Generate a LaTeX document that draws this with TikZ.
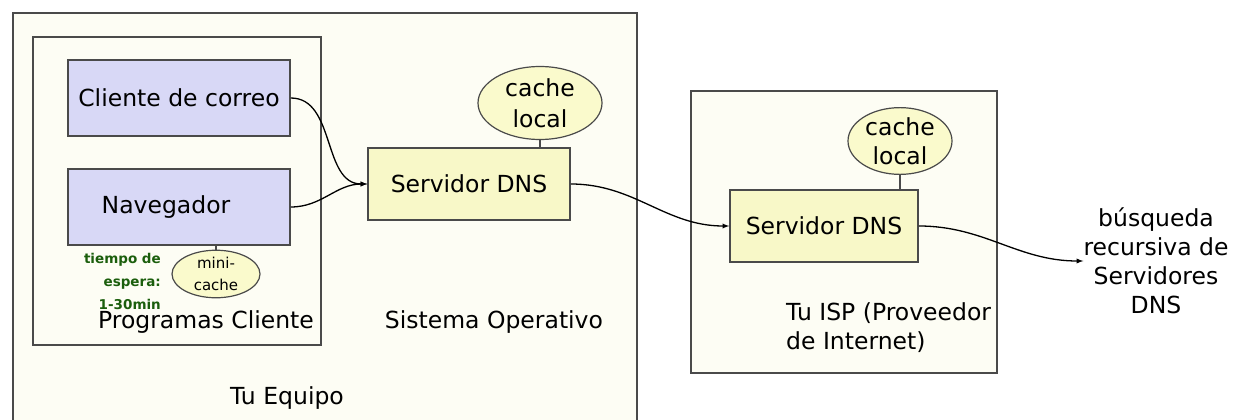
\documentclass[tikz,border=0pt]{standalone}
\usepackage{fontspec}
\setmainfont{DejaVu Sans}
\usetikzlibrary{shapes,arrows,positioning}
\definecolor{zonefill}{HTML}{FDFDF4}
\definecolor{progfill}{HTML}{D8D8F6}
\definecolor{dnsfill}{HTML}{F8F8C8}
\definecolor{cachefill}{HTML}{FAFACC}
\definecolor{linegray}{HTML}{4A4A4A}
\definecolor{waitgreen}{HTML}{1B5E0C}

\begin{document}
\begin{tikzpicture}[x=1pt,y=-1pt,>=latex,font=\fontsize{23.5}{29}\selectfont]
\tikzstyle{zone} = [rectangle, draw=linegray, line width=1.6pt, fill=zonefill, anchor=north west, inner sep=0pt]
\tikzstyle{prog} = [rectangle, draw=linegray, line width=1.6pt, fill=progfill, minimum width=222, minimum height=76, inner sep=0pt]
\tikzstyle{dns} = [rectangle, draw=linegray, line width=1.6pt, fill=dnsfill, minimum height=72, inner sep=0pt]
\tikzstyle{cache} = [ellipse, draw=linegray, line width=1.2pt, fill=cachefill, inner sep=0pt, align=center]
\tikzstyle{label} = [inner sep=0pt]
\tikzstyle{link} = [->, line width=1.3pt, black]
\useasboundingbox (0,0) rectangle (1243,420);
\clip (0,0) rectangle (1243,420);
% caja exterior y programas cliente
\node[zone, minimum width=624, minimum height=440] (equipo) at (12,12) {};
\node[zone, minimum width=288, minimum height=308] (programas) at (32,36) {};
\node[zone, minimum width=306, minimum height=282] (isp) at (690,90) {};
\node[prog] (correo) at (179,98) {Cliente de correo};
\node[prog] (navegador) at (179,207) {Navegador\hspace*{26pt}};
\node[cache, minimum width=88, minimum height=45, font=\fontsize{15}{22}\selectfont] (minicache) at (216,274) {mini-\\cache};
\node[label, align=right, text=waitgreen, font=\fontsize{13.5}{23}\selectfont\bfseries, anchor=east] (espera) at (161,281) {tiempo de\\espera:\\1-30min};
\node[label] (programaslbl) at (206,322) {Programas Cliente};
% sistema operativo
\node[dns, minimum width=202] (dnslocal) at (469,184) {Servidor DNS};
\node[cache, minimum width=124, minimum height=73, font=\fontsize{23.5}{31}\selectfont] (cachelocal) at (540,103) {cache\\local};
\node[label] (sistema) at (494,322) {Sistema Operativo};
\node[label] (tuequipo) at (287,398) {Tu Equipo};
% proveedor
\node[dns, minimum width=188] (dnsisp) at (824,226) {Servidor DNS};
\node[cache, minimum width=104, minimum height=58] (cacheisp) at (900,141) {cache\\local};
\node[label, align=left, anchor=west] (isplbl) at (786,328) {Tu ISP (Proveedor\\de Internet)};
\node[label, align=center] (busqueda) at (1156,261) {búsqueda\\recursiva de\\Servidores\\DNS};
\draw[linegray, line width=1.2pt] (cachelocal.south) -- (cachelocal.south |- dnslocal.north)
      (cacheisp.south) -- (cacheisp.south |- dnsisp.north)
      (minicache.north) -- (minicache.north |- navegador.south);
\path (correo.east) edge[link, out=0, in=180] (dnslocal.west)
      (navegador.east) edge[link, out=0, in=180] (dnslocal.west)
      (dnslocal.east) edge[link, out=0, in=180] (dnsisp.west)
      (dnsisp.east) edge[link, out=0, in=180] (busqueda.west);
\end{tikzpicture}
\end{document}
